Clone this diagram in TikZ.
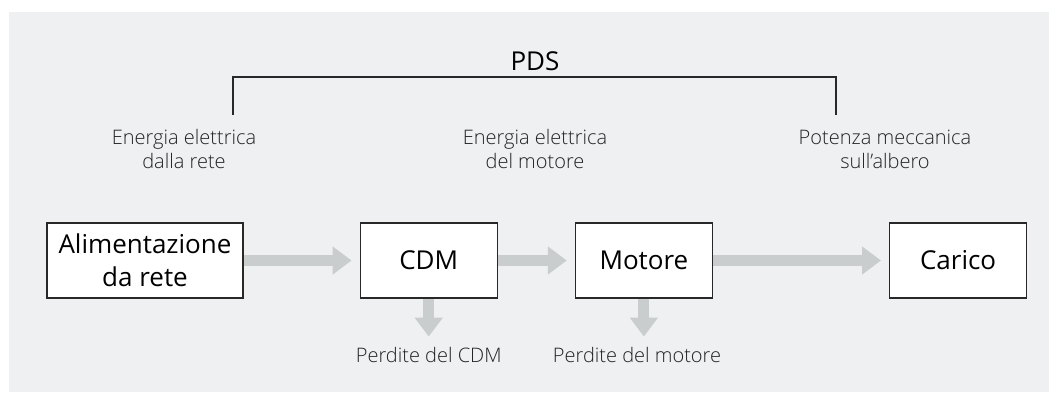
\documentclass[tikz,border=0pt]{standalone}
\usepackage{fontspec}
\setmainfont{Open Sans}
\newfontfamily\lightfont{Open Sans Light}
\usepackage{tikz}
\usetikzlibrary{arrows.meta, positioning}
\definecolor{panelgray}{RGB}{239,240,242}
\definecolor{flowgray}{RGB}{201,205,206}
\definecolor{labelgray}{RGB}{35,35,35}
\definecolor{boxborder}{RGB}{40,40,40}

\begin{document}
\begin{tikzpicture}[
    x=1pt, y=-1pt,
    node distance=77pt,
    blocknode/.style={draw=boxborder, fill=white, line width=1.2pt, align=center, minimum width=137pt, minimum height=75pt, inner sep=0pt, font=\fontsize{26}{33}\selectfont},
    labelnode/.style={align=center, text=labelgray, inner sep=0pt, anchor=base, font=\lightfont\fontsize{20}{23.5}\selectfont},
    flow/.style={draw=flowgray, line width=11pt, -{Triangle[length=19pt, width=27pt]}, shorten >=8pt},
    bracket/.style={draw=boxborder, line width=1.2pt}
]

\useasboundingbox (0,0) rectangle (1049,392);
\fill[panelgray] (9,12) rectangle (1049,392);

% blocks
\node[blocknode, minimum width=196pt] (alim) at (145,260.5) {Alimentazione\\da rete};
\node[blocknode, right=116pt of alim] (cdm) {CDM};
\node[blocknode, right=77pt of cdm] (motore) {Motore};
\node[blocknode, right=176pt of motore] (carico) {Carico};

% labels
\node[labelnode] (retelab) at (184,168) {Energia elettrica\\dalla rete};
\node[labelnode] (motorelab) at (535,168) {Energia elettrica\\del motore};
\node[labelnode] (alberolab) at (885,168) {Potenza meccanica\\sull’albero};

\coordinate (lossrow) at (0,362);
\node[labelnode] (cdmloss) at (cdm |- lossrow) {Perdite del CDM};
\node[labelnode] (motorloss) at (637,362) {Perdite del motore};

% PDS bracket
\node[anchor=base, inner sep=0pt, font=\fontsize{26}{30}\selectfont] (pds) at (535,70) {PDS};
\coordinate (brL) at (233,115);
\coordinate (brR) at (836,115);
\draw[bracket] (brL) -- ++(0,-38) -| (brR);

% flows
\draw[flow] (alim) -- (cdm);
\draw[flow] (cdm) -- (motore);
\draw[flow] (motore) -- (carico);
\draw[flow, shorten >=10pt] (cdm) -- (cdmloss);
\draw[flow, shorten >=10pt] (motore.south) -- (motore.south |- motorloss.north);

\end{tikzpicture}
\end{document}
